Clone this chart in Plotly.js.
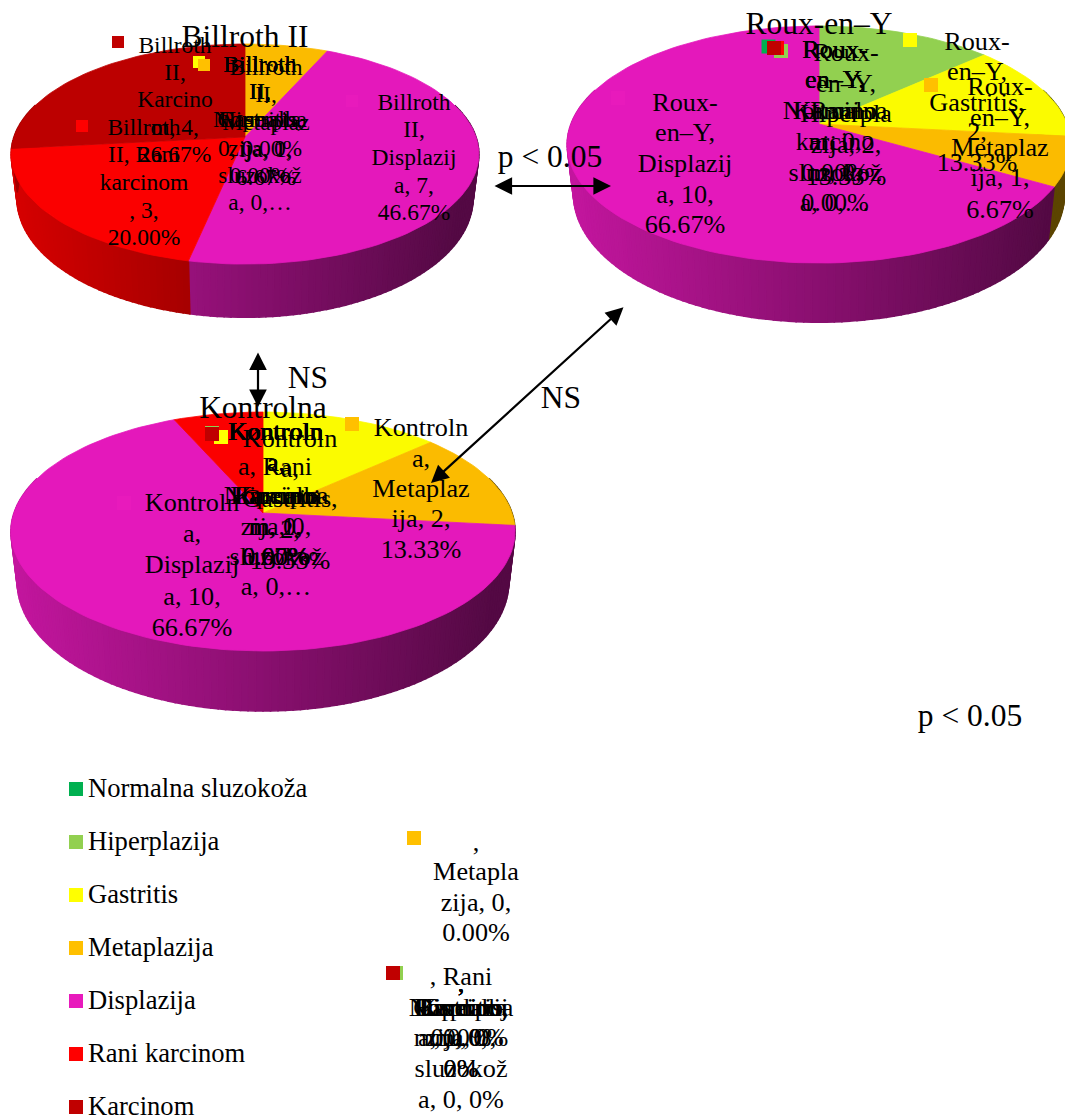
<!DOCTYPE html>
<html><head><meta charset="utf-8">
<script src="https://cdn.plot.ly/plotly-3.0.1.min.js"></script>
<style>html,body{margin:0;padding:0;background:#fff;overflow:hidden}#c{width:1065px;height:1117px}</style>
</head><body><div id="c"></div><script>
// ---------- data ----------
const categories = ['Normalna sluzokoža','Hiperplazija','Gastritis','Metaplazija','Displazija','Rani karcinom','Karcinom'];
const billrothValues  = [0,0,0,1,7,3,4];
const rouxValues      = [0,2,2,1,10,0,0];
const kontrolnaValues = [0,0,2,2,10,1,0];
const categoryColors  = ['#00B050','#92D050','#FFFF00','#FFC000','#E81ABC','#FF0000','#C00000'];
const faceColors      = ['#00B050','#92D050','#FBFB00','#FBBB00','#E418BB','#FB0000','#BC0000'];

// ---------- geometry of the three perspective pies ----------
const pies = [
 {name:'Billroth II', values:billrothValues,  cx:245, cy:137, B:231, A:107.4, k:.155, d:43},
 {name:'Roux-en–Y',   values:rouxValues,      cx:819, cy:124, B:248, A:115,   k:.173, d:48},
 {name:'Kontrolna',   values:kontrolnaValues, cx:263, cy:513, B:249, A:116.6, k:.155, d:49}
];
const SX=.975, SY=1.08;
const rad=a=>a*Math.PI/180;
function rim(p,a){const u=Math.sin(rad(a)),v=Math.cos(rad(a)),w=1+p.k*v;return [p.B*u/w,-p.A*v/w];}
function topPt(p,a){const r=rim(p,a);return [p.cx+r[0],p.cy+r[1]];}
function botPt(p,a){const r=rim(p,a);return [p.cx+SX*r[0],p.cy+p.d+SY*r[1]];}
function shade(hex,f){const n=parseInt(hex.slice(1),16);return 'rgb('+[(n>>16)&255,(n>>8)&255,n&255].map(c=>Math.round(c*f)).join(',')+')';}
const traces=[];
function poly(pts,color,lw){traces.push({type:'scatter',mode:'lines',x:pts.map(q=>q[0]),y:pts.map(q=>q[1]),fill:'toself',fillcolor:color,line:{color:color,width:lw},hoverinfo:'skip',showlegend:false});}
const faces=[];
pies.forEach(p=>{
  const total=p.values.reduce((a,b)=>a+b,0);let a=0;const rx=p.B*1.0125;
  p.values.forEach((v,i)=>{
    const a1=a+v/total*360;
    if(v>0){
      // side wall, split in thin strips for the horizontal light falloff
      const step=1.5;
      for(let s=Math.max(a,72);s<Math.min(a1,288);s+=step){
        const e=Math.min(s+step,a1,288);
        const q=[topPt(p,s),topPt(p,e),botPt(p,e),botPt(p,s)];q.push(q[0]);
        const t=Math.min(1,Math.max(0,((q[0][0]+q[1][0])/2-(p.cx-rx))/(2*rx)));
        poly(q,shade(categoryColors[i],Math.max(.36,.84-.5*t)),1.6);
      }
      // top face
      const f=[[p.cx,p.cy]];
      for(let s=a;s<a1;s+=2)f.push(topPt(p,s));
      f.push(topPt(p,a1));f.push([p.cx,p.cy]);
      faces.push([f,faceColors[i]]);
    }
    a=a1;
  });
});
faces.forEach(f=>poly(f[0],f[1],.8));

// ---------- key squares ----------
function squares(list,size){traces.push({type:'scatter',mode:'markers',x:list.map(q=>q[0]),y:list.map(q=>q[1]),
  marker:{symbol:'square',size:size,color:list.map(q=>categoryColors[q[2]]),line:{width:0}},hoverinfo:'skip',showlegend:false});}
squares([[199,62,0],[199,62,1],[199,62,2],[204,65,3],[352,101,4],[82,126,5],[118,42,6]],12);
squares([[768.5,46.5,0],[781,51,1],[910,40,2],[931,85,3],[618,98,4],[777,48,5],[774,48,6],
         [212,434,0],[212,433,1],[221,437,2],[352,424,3],[124,503,4],[212,434,5],[212,434,6],
         [414,838,3],[396,973,1],[393,973,0],[393,973,2],[393,973,4],[393,973,5],[393,973,6]],14);
const legendY=[789,842,895,948,1001,1054,1107];
squares(categories.map((c,i)=>[76,legendY[i],i]),14);

// ---------- text ----------
function text(x,y,lines,size,pos){traces.push({type:'scatter',mode:'text',x:x,y:y.map(v=>v+2),text:lines,textposition:pos||'middle center',
  textfont:{family:'"Liberation Serif","Times New Roman",serif',size:size,color:'#000'},hoverinfo:'skip',showlegend:false,cliponaxis:false});}
function block(x,ys,lines,size){text(lines.map(()=>x),ys,lines,size);}

const SMALL=23.5, LABEL=26.2, TITLE=31.5;
// Billroth II
block(175,[45,72,99,127,154],['Billroth','II,','Karcino','m, 4,','26.67%'],SMALL);
block(144,[127,154,182,210,237],['Billroth','II, Rani','karcinom',', 3,','20.00%'],SMALL);
block(414,[102,129,157,185,212],['Billroth','II,','Displazij','a, 7,','46.67%'],SMALL);
block(266,[67,94,122,149,177],['Billroth','II,','Metaplaz','ija, 1,','6.67%'],SMALL);
block(260,[64,91,119,148],['Billroth','II,','Gastritis,','0, 0.00%'],SMALL);
block(260,[64,91,119,148,175],['Billroth','II,','Hiperpla','zija, 0,','0.00%'],SMALL);
block(260,[64,91,119,175,202],['Billroth','II,','Normalna','sluzokož','a, 0,…'],SMALL);
// Roux-en-Y
block(685,[102,132,163,194,224],['Roux-','en–Y,','Displazij','a, 10,','66.67%'],LABEL);
block(977,[41,71,102,131,162],['Roux-','en–Y,','Gastritis,','2,','13.33%'],LABEL);
block(1000,[86,117,147,177,209],['Roux-','en–Y,','Metaplaz','ija, 1,','6.67%'],LABEL);
block(846,[52,83,113,144,176],['Roux-','en–Y,','Hiperpla','zija, 2,','13.33%'],LABEL);
block(835,[49,79,110,141,172],['Roux-','en–Y,','Karcino','m, 0,','0.00%'],LABEL);
block(835,[49,79,110,141,172,202],['Roux-','en–Y,','Rani','karcino','m, 0,','0.00%'],LABEL);
block(835,[49,79,110,172,202],['Roux-','en–Y,','Normalna','sluzokož','a, 0,…'],LABEL);
// Kontrolna
block(421,[427,458,488,518,549],['Kontroln','a,','Metaplaz','ija, 2,','13.33%'],LABEL);
block(192,[502,533,564,596,627],['Kontroln','a,','Displazij','a, 10,','66.67%'],LABEL);
block(290,[438,468,498,529,560],['Kontroln','a,','Gastritis,','2,','13.33%'],LABEL);
block(275,[431,466,495,526,556],['Kontroln','a, Rani','karcino','m, 1,','6.67%'],LABEL);
block(276,[431,462,495,526,556],['Kontroln','a,','Karcino','m, 0,','0.00%'],LABEL);
block(276,[431,462,495,526,556],['Kontroln','a,','Hiperpla','zija, 0,','0.00%'],LABEL);
block(276,[431,462,495,556,586],['Kontroln','a,','Normalna','sluzokož','a, 0,…'],LABEL);
// blank-name series in the lower middle
block(476,[842,871,902,932],[',','Metapla','zija, 0,','0.00%'],LABEL);
block(461,[976,1007,1037,1068],[', Rani','karcino','m, 0,','0%'],LABEL);
block(461,[983,1007,1037],[',','Karcino','m, 0, 0%'],LABEL);
block(461,[983,1007,1037],[',','Gastritis,','0, 0%'],LABEL);
block(461,[983,1007,1037,1068],[',','Hiperpla','zija, 0,','0%'],LABEL);
block(461,[983,1007,1037],[',','Displazij','a, 0, 0%'],LABEL);
block(461,[983,1007,1068,1099],[',','Normalna','sluzokož','a, 0, 0%'],LABEL);
// titles and notes
text([245,819,263],[37,24,408],pies.map(p=>p.name),TITLE);
text([550,970,308,561],[157,716,378,398],['p < 0.05','p < 0.05','NS','NS'],TITLE);
// legend
text(categories.map(()=>88),legendY.map(v=>v-1),categories,26.6,'middle right');

// ---------- double-headed arrows ----------
function arrow(x0,y0,x1,y1){return {x:x1,y:y1,ax:x0,ay:y0,xref:'x',yref:'y',axref:'x',ayref:'y',text:'',showarrow:true,
  arrowhead:2,startarrowhead:2,arrowside:'end+start',arrowwidth:2.2,arrowsize:1.6,startarrowsize:1.6,arrowcolor:'#000',standoff:0,startstandoff:0};}

Plotly.newPlot('c',traces,{
  width:1065,height:1117,margin:{l:0,r:0,t:0,b:0,pad:0},paper_bgcolor:'#fff',plot_bgcolor:'#fff',showlegend:false,
  xaxis:{range:[0,1065],visible:false,fixedrange:true},
  yaxis:{range:[1117,0],visible:false,fixedrange:true},
  annotations:[arrow(493,186,611,186),arrow(258,351,258,407),arrow(625,306,431,483)]
},{displayModeBar:false,staticPlot:true});
</script></body></html>
